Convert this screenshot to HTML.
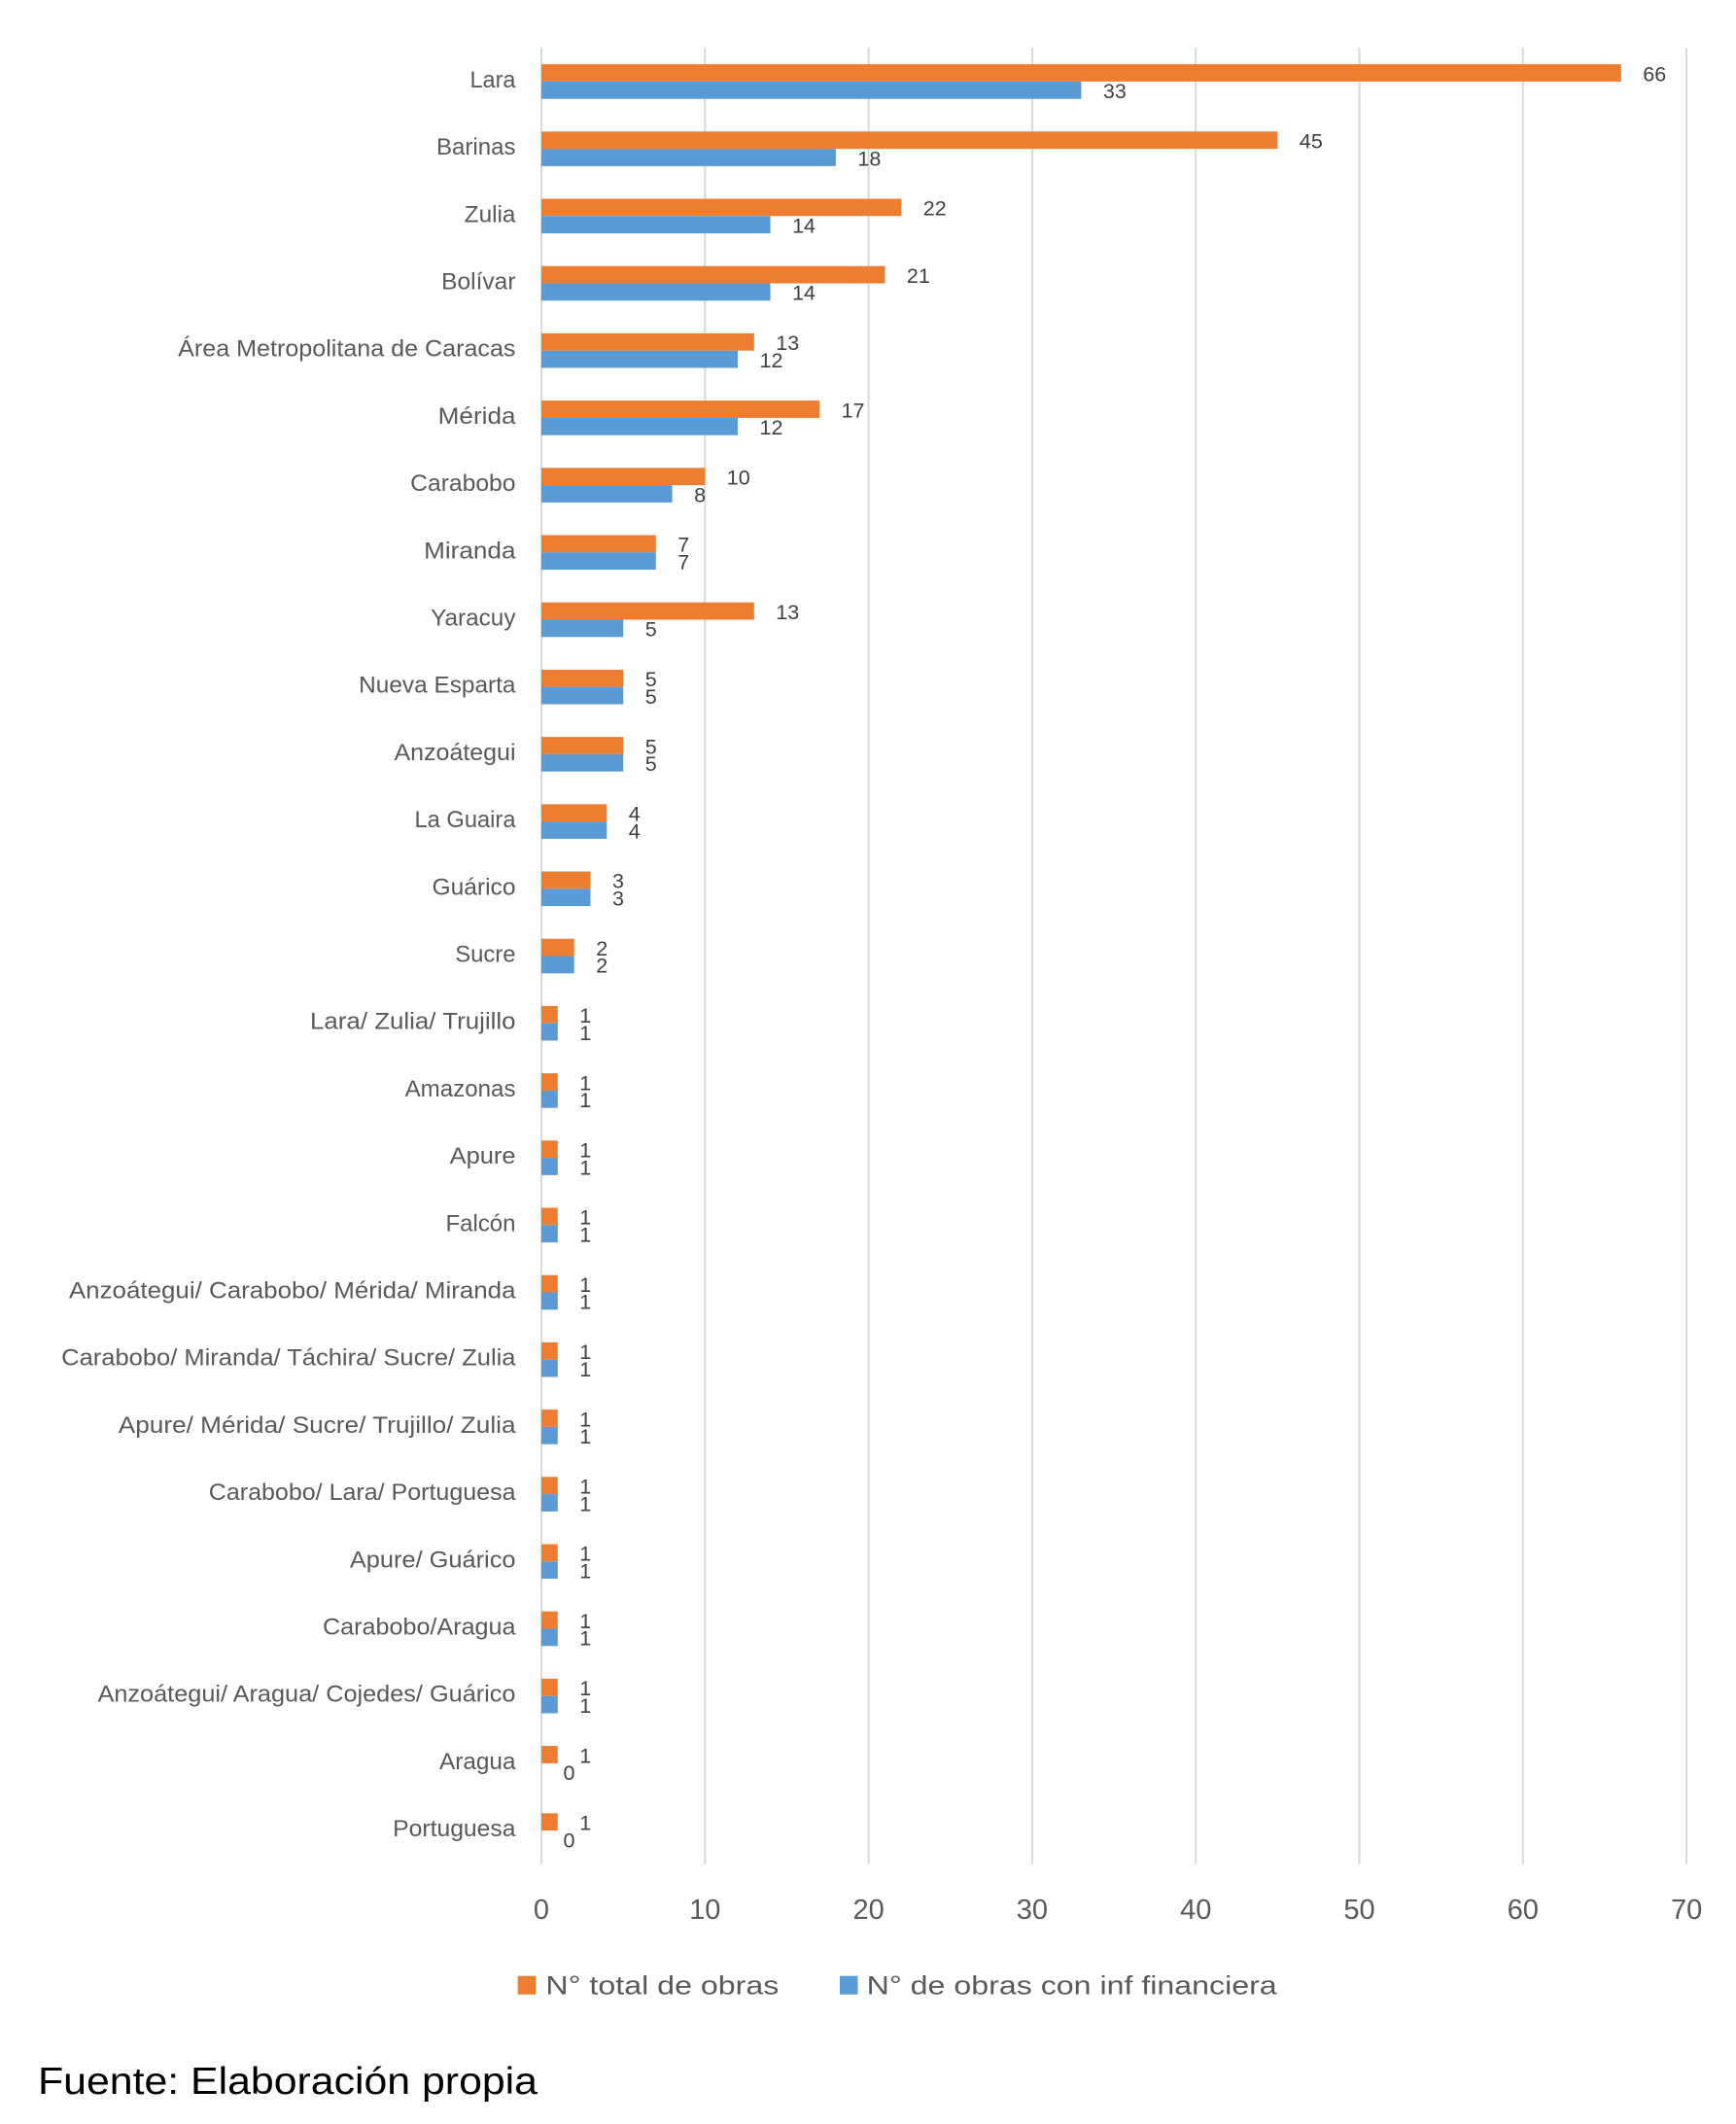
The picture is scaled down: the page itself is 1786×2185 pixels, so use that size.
<!DOCTYPE html>
<html>
<head>
<meta charset="utf-8">
<style>
html,body{margin:0;padding:0;background:#fff;}
svg{display:block;}
.cat{font-family:"Liberation Sans",Arial,sans-serif;font-size:24px;fill:#595959;text-anchor:end;}
.val{font-family:"Liberation Sans",Arial,sans-serif;font-size:21.5px;fill:#404040;}
.tick{font-family:"Liberation Sans",Arial,sans-serif;font-size:29px;fill:#595959;text-anchor:middle;}
.leg{font-family:"Liberation Sans",Arial,sans-serif;font-size:26.5px;fill:#595959;}
.foot{font-family:"Liberation Sans",Arial,sans-serif;font-size:39px;fill:#000;}
.o{fill:#ED7D31;}
.b{fill:#5B9BD5;}
</style>
</head>
<body>
<svg width="1786" height="2185" viewBox="0 0 1786 2185" xmlns="http://www.w3.org/2000/svg">
<rect x="0" y="0" width="1786" height="2185" fill="#fff"/>
<!-- gridlines -->
<g stroke="#D9D9D9" stroke-width="2">
<line x1="557" y1="49.3" x2="557" y2="1917.7"/>
<line x1="725.3" y1="49.3" x2="725.3" y2="1917.7"/>
<line x1="893.6" y1="49.3" x2="893.6" y2="1917.7"/>
<line x1="1061.9" y1="49.3" x2="1061.9" y2="1917.7"/>
<line x1="1230.2" y1="49.3" x2="1230.2" y2="1917.7"/>
<line x1="1398.5" y1="49.3" x2="1398.5" y2="1917.7"/>
<line x1="1566.8" y1="49.3" x2="1566.8" y2="1917.7"/>
<line x1="1735.1" y1="49.3" x2="1735.1" y2="1917.7"/>
</g>

<!-- categories -->
<g transform="translate(0,83.9)">
<text class="cat" x="530.5" y="6" textLength="47" lengthAdjust="spacingAndGlyphs">Lara</text>
<rect class="o" x="557" y="-17.8" width="1110.8" height="17.8"/><rect class="b" x="557" y="0" width="555.4" height="17.8"/>
<text class="val" x="1690.3" y="-0.6">66</text><text class="val" x="1134.9" y="17.2">33</text>
</g>
<g transform="translate(0,153.1)">
<text class="cat" x="530.5" y="6" textLength="81.5" lengthAdjust="spacingAndGlyphs">Barinas</text>
<rect class="o" x="557" y="-17.8" width="757.4" height="17.8"/><rect class="b" x="557" y="0" width="302.9" height="17.8"/>
<text class="val" x="1336.9" y="-0.6">45</text><text class="val" x="882.4" y="17.2">18</text>
</g>
<g transform="translate(0,222.3)">
<text class="cat" x="530.5" y="6" textLength="52.8" lengthAdjust="spacingAndGlyphs">Zulia</text>
<rect class="o" x="557" y="-17.8" width="370.3" height="17.8"/><rect class="b" x="557" y="0" width="235.6" height="17.8"/>
<text class="val" x="949.8" y="-0.6">22</text><text class="val" x="815.1" y="17.2">14</text>
</g>
<g transform="translate(0,291.5)">
<text class="cat" x="530.5" y="6" textLength="76.3" lengthAdjust="spacingAndGlyphs">Bolívar</text>
<rect class="o" x="557" y="-17.8" width="353.4" height="17.8"/><rect class="b" x="557" y="0" width="235.6" height="17.8"/>
<text class="val" x="932.9" y="-0.6">21</text><text class="val" x="815.1" y="17.2">14</text>
</g>
<g transform="translate(0,360.7)">
<text class="cat" x="530.5" y="6" textLength="347.3" lengthAdjust="spacingAndGlyphs">Área Metropolitana de Caracas</text>
<rect class="o" x="557" y="-17.8" width="218.8" height="17.8"/><rect class="b" x="557" y="0" width="202" height="17.8"/>
<text class="val" x="798.3" y="-0.6">13</text><text class="val" x="781.5" y="17.2">12</text>
</g>
<g transform="translate(0,429.9)">
<text class="cat" x="530.5" y="6" textLength="79.8" lengthAdjust="spacingAndGlyphs">Mérida</text>
<rect class="o" x="557" y="-17.8" width="286.1" height="17.8"/><rect class="b" x="557" y="0" width="202" height="17.8"/>
<text class="val" x="865.6" y="-0.6">17</text><text class="val" x="781.5" y="17.2">12</text>
</g>
<g transform="translate(0,499.1)">
<text class="cat" x="530.5" y="6" textLength="108.3" lengthAdjust="spacingAndGlyphs">Carabobo</text>
<rect class="o" x="557" y="-17.8" width="168.3" height="17.8"/><rect class="b" x="557" y="0" width="134.6" height="17.8"/>
<text class="val" x="747.8" y="-0.6">10</text><text class="val" x="714.1" y="17.2">8</text>
</g>
<g transform="translate(0,568.3)">
<text class="cat" x="530.5" y="6" textLength="94.4" lengthAdjust="spacingAndGlyphs">Miranda</text>
<rect class="o" x="557" y="-17.8" width="117.8" height="17.8"/><rect class="b" x="557" y="0" width="117.8" height="17.8"/>
<text class="val" x="697.3" y="-0.6">7</text><text class="val" x="697.3" y="17.2">7</text>
</g>
<g transform="translate(0,637.5)">
<text class="cat" x="530.5" y="6" textLength="87.4" lengthAdjust="spacingAndGlyphs">Yaracuy</text>
<rect class="o" x="557" y="-17.8" width="218.8" height="17.8"/><rect class="b" x="557" y="0" width="84.2" height="17.8"/>
<text class="val" x="798.3" y="-0.6">13</text><text class="val" x="663.7" y="17.2">5</text>
</g>
<g transform="translate(0,706.7)">
<text class="cat" x="530.5" y="6" textLength="161.3" lengthAdjust="spacingAndGlyphs">Nueva Esparta</text>
<rect class="o" x="557" y="-17.8" width="84.2" height="17.8"/><rect class="b" x="557" y="0" width="84.2" height="17.8"/>
<text class="val" x="663.7" y="-0.6">5</text><text class="val" x="663.7" y="17.2">5</text>
</g>
<g transform="translate(0,775.9)">
<text class="cat" x="530.5" y="6" textLength="125" lengthAdjust="spacingAndGlyphs">Anzoátegui</text>
<rect class="o" x="557" y="-17.8" width="84.2" height="17.8"/><rect class="b" x="557" y="0" width="84.2" height="17.8"/>
<text class="val" x="663.7" y="-0.6">5</text><text class="val" x="663.7" y="17.2">5</text>
</g>
<g transform="translate(0,845.1)">
<text class="cat" x="530.5" y="6" textLength="104" lengthAdjust="spacingAndGlyphs">La Guaira</text>
<rect class="o" x="557" y="-17.8" width="67.3" height="17.8"/><rect class="b" x="557" y="0" width="67.3" height="17.8"/>
<text class="val" x="646.8" y="-0.6">4</text><text class="val" x="646.8" y="17.2">4</text>
</g>
<g transform="translate(0,914.3)">
<text class="cat" x="530.5" y="6" textLength="86" lengthAdjust="spacingAndGlyphs">Guárico</text>
<rect class="o" x="557" y="-17.8" width="50.5" height="17.8"/><rect class="b" x="557" y="0" width="50.5" height="17.8"/>
<text class="val" x="630" y="-0.6">3</text><text class="val" x="630" y="17.2">3</text>
</g>
<g transform="translate(0,983.5)">
<text class="cat" x="530.5" y="6" textLength="62.3" lengthAdjust="spacingAndGlyphs">Sucre</text>
<rect class="o" x="557" y="-17.8" width="33.7" height="17.8"/><rect class="b" x="557" y="0" width="33.7" height="17.8"/>
<text class="val" x="613.2" y="-0.6">2</text><text class="val" x="613.2" y="17.2">2</text>
</g>
<g transform="translate(0,1052.7)">
<text class="cat" x="530.5" y="6" textLength="211.5" lengthAdjust="spacingAndGlyphs">Lara/ Zulia/ Trujillo</text>
<rect class="o" x="557" y="-17.8" width="16.8" height="17.8"/><rect class="b" x="557" y="0" width="16.8" height="17.8"/>
<text class="val" x="596.3" y="-0.6">1</text><text class="val" x="596.3" y="17.2">1</text>
</g>
<g transform="translate(0,1121.9)">
<text class="cat" x="530.5" y="6" textLength="113.9" lengthAdjust="spacingAndGlyphs">Amazonas</text>
<rect class="o" x="557" y="-17.8" width="16.8" height="17.8"/><rect class="b" x="557" y="0" width="16.8" height="17.8"/>
<text class="val" x="596.3" y="-0.6">1</text><text class="val" x="596.3" y="17.2">1</text>
</g>
<g transform="translate(0,1191.1)">
<text class="cat" x="530.5" y="6" textLength="67.9" lengthAdjust="spacingAndGlyphs">Apure</text>
<rect class="o" x="557" y="-17.8" width="16.8" height="17.8"/><rect class="b" x="557" y="0" width="16.8" height="17.8"/>
<text class="val" x="596.3" y="-0.6">1</text><text class="val" x="596.3" y="17.2">1</text>
</g>
<g transform="translate(0,1260.3)">
<text class="cat" x="530.5" y="6" textLength="72" lengthAdjust="spacingAndGlyphs">Falcón</text>
<rect class="o" x="557" y="-17.8" width="16.8" height="17.8"/><rect class="b" x="557" y="0" width="16.8" height="17.8"/>
<text class="val" x="596.3" y="-0.6">1</text><text class="val" x="596.3" y="17.2">1</text>
</g>
<g transform="translate(0,1329.5)">
<text class="cat" x="530.5" y="6" textLength="459.6" lengthAdjust="spacingAndGlyphs">Anzoátegui/ Carabobo/ Mérida/ Miranda</text>
<rect class="o" x="557" y="-17.8" width="16.8" height="17.8"/><rect class="b" x="557" y="0" width="16.8" height="17.8"/>
<text class="val" x="596.3" y="-0.6">1</text><text class="val" x="596.3" y="17.2">1</text>
</g>
<g transform="translate(0,1398.7)">
<text class="cat" x="530.5" y="6" textLength="467.3" lengthAdjust="spacingAndGlyphs">Carabobo/ Miranda/ Táchira/ Sucre/ Zulia</text>
<rect class="o" x="557" y="-17.8" width="16.8" height="17.8"/><rect class="b" x="557" y="0" width="16.8" height="17.8"/>
<text class="val" x="596.3" y="-0.6">1</text><text class="val" x="596.3" y="17.2">1</text>
</g>
<g transform="translate(0,1467.9)">
<text class="cat" x="530.5" y="6" textLength="408.7" lengthAdjust="spacingAndGlyphs">Apure/ Mérida/ Sucre/ Trujillo/ Zulia</text>
<rect class="o" x="557" y="-17.8" width="16.8" height="17.8"/><rect class="b" x="557" y="0" width="16.8" height="17.8"/>
<text class="val" x="596.3" y="-0.6">1</text><text class="val" x="596.3" y="17.2">1</text>
</g>
<g transform="translate(0,1537.1)">
<text class="cat" x="530.5" y="6" textLength="315.7" lengthAdjust="spacingAndGlyphs">Carabobo/ Lara/ Portuguesa</text>
<rect class="o" x="557" y="-17.8" width="16.8" height="17.8"/><rect class="b" x="557" y="0" width="16.8" height="17.8"/>
<text class="val" x="596.3" y="-0.6">1</text><text class="val" x="596.3" y="17.2">1</text>
</g>
<g transform="translate(0,1606.3)">
<text class="cat" x="530.5" y="6" textLength="170.6" lengthAdjust="spacingAndGlyphs">Apure/ Guárico</text>
<rect class="o" x="557" y="-17.8" width="16.8" height="17.8"/><rect class="b" x="557" y="0" width="16.8" height="17.8"/>
<text class="val" x="596.3" y="-0.6">1</text><text class="val" x="596.3" y="17.2">1</text>
</g>
<g transform="translate(0,1675.5)">
<text class="cat" x="530.5" y="6" textLength="198.5" lengthAdjust="spacingAndGlyphs">Carabobo/Aragua</text>
<rect class="o" x="557" y="-17.8" width="16.8" height="17.8"/><rect class="b" x="557" y="0" width="16.8" height="17.8"/>
<text class="val" x="596.3" y="-0.6">1</text><text class="val" x="596.3" y="17.2">1</text>
</g>
<g transform="translate(0,1744.7)">
<text class="cat" x="530.5" y="6" textLength="430" lengthAdjust="spacingAndGlyphs">Anzoátegui/ Aragua/ Cojedes/ Guárico</text>
<rect class="o" x="557" y="-17.8" width="16.8" height="17.8"/><rect class="b" x="557" y="0" width="16.8" height="17.8"/>
<text class="val" x="596.3" y="-0.6">1</text><text class="val" x="596.3" y="17.2">1</text>
</g>
<g transform="translate(0,1813.9)">
<text class="cat" x="530.5" y="6" textLength="78.5" lengthAdjust="spacingAndGlyphs">Aragua</text>
<rect class="o" x="557" y="-17.8" width="16.8" height="17.8"/>
<text class="val" x="596.3" y="-0.6">1</text><text class="val" x="579.5" y="17.2">0</text>
</g>
<g transform="translate(0,1883.1)">
<text class="cat" x="530.5" y="6" textLength="126.3" lengthAdjust="spacingAndGlyphs">Portuguesa</text>
<rect class="o" x="557" y="-17.8" width="16.8" height="17.8"/>
<text class="val" x="596.3" y="-0.6">1</text><text class="val" x="579.5" y="17.2">0</text>
</g>

<!-- x-axis tick labels -->
<text class="tick" x="557" y="1974">0</text>
<text class="tick" x="725.3" y="1974">10</text>
<text class="tick" x="893.6" y="1974">20</text>
<text class="tick" x="1061.9" y="1974">30</text>
<text class="tick" x="1230.2" y="1974">40</text>
<text class="tick" x="1398.5" y="1974">50</text>
<text class="tick" x="1566.8" y="1974">60</text>
<text class="tick" x="1735.1" y="1974">70</text>

<!-- legend -->
<rect class="o" x="532.7" y="2032.7" width="18.5" height="19"/>
<text class="leg" x="561.4" y="2051.7" textLength="240" lengthAdjust="spacingAndGlyphs">N° total de obras</text>
<rect class="b" x="864" y="2032.7" width="18.5" height="19"/>
<text class="leg" x="891.7" y="2051.7" textLength="422" lengthAdjust="spacingAndGlyphs">N° de obras con inf financiera</text>

<!-- footer -->
<text class="foot" x="39" y="2154" textLength="514" lengthAdjust="spacingAndGlyphs">Fuente: Elaboración propia</text>
</svg>
</body>
</html>
